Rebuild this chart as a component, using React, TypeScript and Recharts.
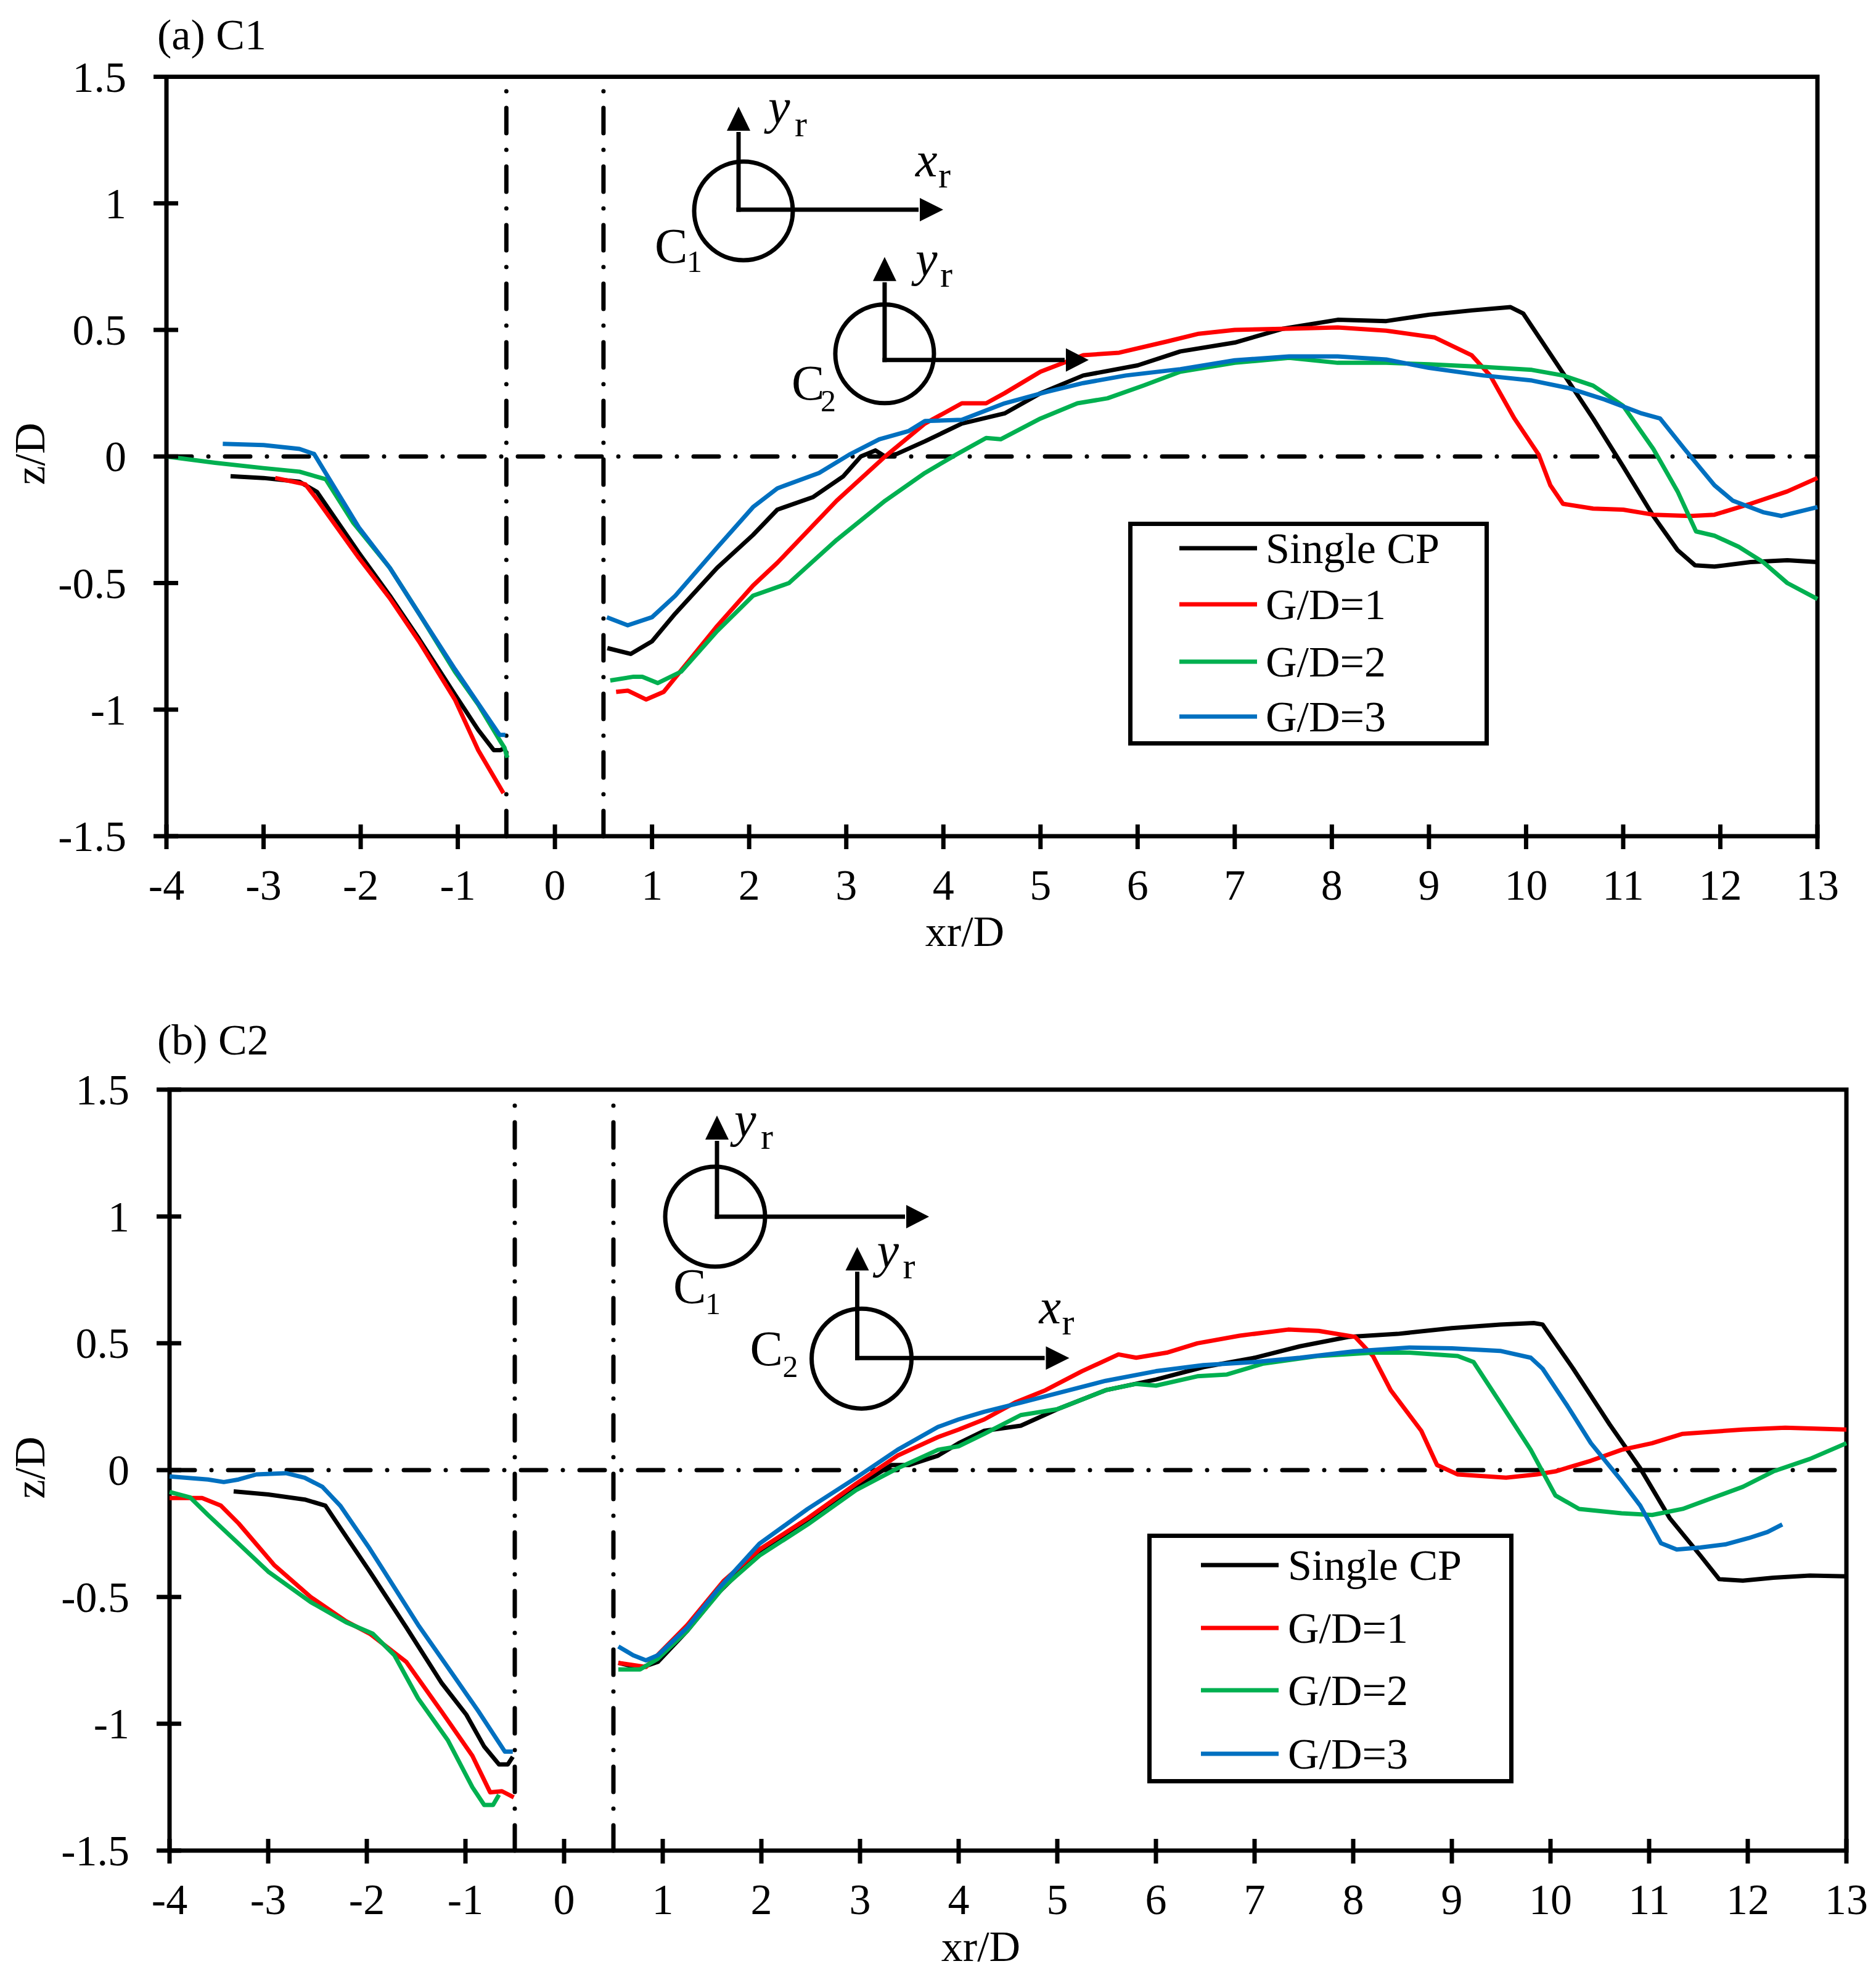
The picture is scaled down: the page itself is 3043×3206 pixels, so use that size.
import React from 'react';
import {
  LineChart,
  Line,
  XAxis,
  YAxis,
  ReferenceLine,
  ReferenceArea,
  ReferenceDot,
  Legend,
  Customized,
} from 'recharts';

const FONT = '"Liberation Serif", "Times New Roman", Times, serif';

// ---------- axes / categories ----------
const xTicks = [-4, -3, -2, -1, 0, 1, 2, 3, 4, 5, 6, 7, 8, 9, 10, 11, 12, 13];
const yTicks = [-1.5, -1, -0.5, 0, 0.5, 1, 1.5];
const seriesNames = ['Single CP', 'G/D=1', 'G/D=2', 'G/D=3'];
const seriesColors = ['#000000', '#FF0000', '#00B050', '#0070C0'];
const cylinderEdges = [-0.5, 0.5];

type P = [number, number | null];

// ---------- panel (a) C1 ----------
const aSingle: P[] = [
  [-3.34, -0.078], [-3.0, -0.085], [-2.63, -0.1], [-2.45, -0.14], [-2.02, -0.38], [-1.7, -0.55],
  [-1.4, -0.72], [-1.03, -0.94], [-0.79, -1.08], [-0.63, -1.16], [-0.56, -1.16], [-0.51, -1.15],
  [0, null],
  [0.54, -0.757], [0.78, -0.78], [1.0, -0.73], [1.24, -0.62], [1.67, -0.44], [2.04, -0.31],
  [2.29, -0.21], [2.66, -0.16], [2.97, -0.078], [3.15, 0.0], [3.3, 0.024], [3.4, 0.0], [3.52, 0.01],
  [3.81, 0.06], [4.19, 0.13], [4.63, 0.17], [5.0, 0.25], [5.44, 0.32], [6.0, 0.36], [6.44, 0.415],
  [7.0, 0.45], [7.5, 0.505], [8.06, 0.54], [8.56, 0.535], [9.0, 0.56], [9.44, 0.577], [9.84, 0.59],
  [9.97, 0.565], [10.31, 0.37], [10.69, 0.15], [11.0, -0.04], [11.31, -0.235], [11.56, -0.37],
  [11.74, -0.43], [11.94, -0.435], [12.31, -0.417], [12.69, -0.41], [13.0, -0.417],
];
const aGD1: P[] = [
  [-2.88, -0.085], [-2.57, -0.11], [-2.45, -0.17], [-2.02, -0.4], [-1.7, -0.56], [-1.4, -0.73],
  [-1.03, -0.96], [-0.79, -1.16], [-0.53, -1.33],
  [0, null],
  [0.63, -0.93], [0.75, -0.925], [0.94, -0.96], [1.12, -0.93], [1.67, -0.67], [2.04, -0.51],
  [2.29, -0.42], [2.9, -0.175], [3.4, 0.0], [3.81, 0.13], [4.19, 0.21], [4.44, 0.21], [4.63, 0.25],
  [5.0, 0.335], [5.44, 0.4], [5.81, 0.41], [6.31, 0.455], [6.63, 0.485], [7.0, 0.5], [7.56, 0.505],
  [8.06, 0.51], [8.56, 0.497], [9.06, 0.47], [9.44, 0.4], [9.63, 0.32], [9.88, 0.15], [10.13, 0.007],
  [10.25, -0.114], [10.38, -0.187], [10.69, -0.206], [11.0, -0.21], [11.31, -0.23], [11.69, -0.235],
  [11.94, -0.23], [12.31, -0.187], [12.69, -0.138], [13.0, -0.085],
];
const aGD2: P[] = [
  [-4.0, 0.0], [-3.5, -0.025], [-3.0, -0.046], [-2.63, -0.06], [-2.36, -0.09], [-2.08, -0.26],
  [-1.7, -0.44], [-1.4, -0.62], [-1.03, -0.85], [-0.79, -0.98], [-0.57, -1.12], [-0.52, -1.15],
  [-0.49, -1.19],
  [0, null],
  [0.57, -0.885], [0.81, -0.87], [0.9, -0.87], [1.06, -0.895], [1.3, -0.85], [1.67, -0.69],
  [2.04, -0.55], [2.41, -0.5], [2.9, -0.33], [3.4, -0.175], [3.81, -0.065], [4.13, 0.007],
  [4.44, 0.073], [4.59, 0.068], [5.0, 0.15], [5.38, 0.21], [5.69, 0.23], [6.06, 0.28], [6.44, 0.335],
  [7.0, 0.37], [7.56, 0.39], [8.06, 0.37], [8.56, 0.37], [9.0, 0.364], [9.56, 0.354], [10.06, 0.342],
  [10.38, 0.32], [10.69, 0.28], [11.0, 0.2], [11.31, 0.03], [11.56, -0.138], [11.75, -0.296],
  [11.94, -0.313], [12.19, -0.357], [12.44, -0.417], [12.69, -0.5], [13.0, -0.563],
];
const aGD3: P[] = [
  [-3.42, 0.05], [-3.0, 0.045], [-2.63, 0.03], [-2.48, 0.01], [-2.02, -0.28], [-1.7, -0.44],
  [-1.4, -0.62], [-1.03, -0.84], [-0.57, -1.1], [-0.51, -1.1],
  [0, null],
  [0.535, -0.635], [0.75, -0.667], [1.0, -0.635], [1.24, -0.55], [1.67, -0.36], [2.04, -0.2],
  [2.29, -0.126], [2.72, -0.065], [3.03, 0.007], [3.34, 0.068], [3.64, 0.1], [3.81, 0.14],
  [4.19, 0.145], [4.63, 0.21], [5.06, 0.255], [5.44, 0.29], [5.88, 0.32], [6.44, 0.345], [7.0, 0.38],
  [7.56, 0.395], [8.06, 0.395], [8.56, 0.383], [9.0, 0.35], [9.56, 0.32], [10.06, 0.3], [10.44, 0.27],
  [10.81, 0.225], [11.19, 0.17], [11.38, 0.15], [11.63, 0.03], [11.94, -0.114], [12.13, -0.175],
  [12.44, -0.22], [12.63, -0.235], [13.0, -0.2],
];

// ---------- panel (b) C2 ----------
const bSingle: P[] = [
  [-3.35, -0.084], [-3.0, -0.096], [-2.63, -0.116], [-2.42, -0.14], [-2.27, -0.227], [-1.97, -0.4],
  [-1.6, -0.62], [-1.24, -0.84], [-0.99, -0.965], [-0.81, -1.09], [-0.66, -1.16], [-0.57, -1.16],
  [-0.52, -1.13],
  [0, null],
  [0.55, -0.76], [0.77, -0.78], [0.95, -0.756], [1.25, -0.633], [1.56, -0.485], [1.98, -0.325],
  [2.47, -0.2], [2.96, -0.066], [3.32, 0.02], [3.5, 0.02], [3.79, 0.057], [4.0, 0.106], [4.26, 0.155],
  [4.63, 0.175], [5.0, 0.24], [5.49, 0.315], [6.0, 0.357], [6.48, 0.406], [7.0, 0.443], [7.46, 0.488],
  [7.95, 0.525], [8.45, 0.537], [9.0, 0.56], [9.49, 0.574], [9.83, 0.58], [9.92, 0.574], [10.23, 0.4],
  [10.6, 0.18], [10.91, 0.007], [11.21, -0.19], [11.52, -0.337], [11.71, -0.43], [11.95, -0.436],
  [12.26, -0.424], [12.63, -0.416], [13.0, -0.419],
];
const bGD1: P[] = [
  [-4.0, -0.11], [-3.67, -0.11], [-3.48, -0.14], [-3.3, -0.21], [-2.94, -0.374], [-2.57, -0.5],
  [-2.21, -0.596], [-1.97, -0.645], [-1.6, -0.756], [-1.24, -0.953], [-0.93, -1.126], [-0.75, -1.27],
  [-0.63, -1.266], [-0.51, -1.29],
  [0, null],
  [0.55, -0.76], [0.83, -0.776], [1.25, -0.61], [1.62, -0.436], [1.98, -0.313], [2.47, -0.19],
  [2.96, -0.054], [3.38, 0.057], [3.79, 0.13], [4.0, 0.16], [4.26, 0.2], [4.57, 0.266], [4.88, 0.315],
  [5.25, 0.39], [5.62, 0.456], [5.8, 0.443], [6.11, 0.463], [6.42, 0.5], [6.85, 0.53], [7.34, 0.554],
  [7.65, 0.549], [8.02, 0.525], [8.2, 0.45], [8.38, 0.315], [8.69, 0.155], [8.85, 0.02], [9.06, -0.017],
  [9.55, -0.03], [9.86, -0.017], [10.05, -0.005], [10.41, 0.037], [10.72, 0.08], [11.03, 0.106],
  [11.34, 0.143], [11.95, 0.16], [12.38, 0.167], [13.0, 0.16],
];
const bGD2: P[] = [
  [-4.0, -0.086], [-3.79, -0.108], [-3.61, -0.177], [-3.3, -0.29], [-3.0, -0.4], [-2.57, -0.52],
  [-2.21, -0.6], [-1.94, -0.645], [-1.72, -0.73], [-1.48, -0.9], [-1.18, -1.064], [-0.93, -1.25],
  [-0.81, -1.32], [-0.72, -1.32], [-0.66, -1.28],
  [0, null],
  [0.55, -0.786], [0.77, -0.786], [0.95, -0.744], [1.25, -0.633], [1.62, -0.46], [1.98, -0.337],
  [2.47, -0.214], [2.96, -0.079], [3.38, 0.007], [3.79, 0.08], [4.0, 0.094], [4.26, 0.143],
  [4.63, 0.217], [5.0, 0.24], [5.49, 0.315], [5.8, 0.34], [6.0, 0.333], [6.42, 0.37], [6.72, 0.377],
  [7.09, 0.42], [7.65, 0.45], [8.2, 0.463], [8.57, 0.463], [9.06, 0.45], [9.22, 0.426], [9.49, 0.266],
  [9.8, 0.08], [10.05, -0.1], [10.29, -0.153], [10.72, -0.17], [11.03, -0.177], [11.34, -0.153],
  [11.64, -0.11], [11.95, -0.066], [12.26, -0.005], [12.63, 0.044], [13.0, 0.106],
];
const bGD3: P[] = [
  [-4.0, -0.025], [-3.61, -0.037], [-3.45, -0.047], [-3.3, -0.037], [-3.12, -0.017], [-2.82, -0.012],
  [-2.63, -0.03], [-2.45, -0.066], [-2.27, -0.14], [-1.97, -0.31], [-1.48, -0.61], [-1.12, -0.81],
  [-0.87, -0.95], [-0.6, -1.11], [-0.52, -1.11],
  [0, null],
  [0.55, -0.695], [0.7, -0.73], [0.83, -0.75], [0.95, -0.73], [1.25, -0.62], [1.56, -0.47],
  [1.98, -0.29], [2.47, -0.153], [2.96, -0.03], [3.38, 0.08], [3.79, 0.17], [4.0, 0.2], [4.26, 0.23],
  [4.63, 0.266], [5.0, 0.303], [5.49, 0.352], [6.0, 0.39], [6.48, 0.414], [7.0, 0.426], [7.46, 0.443],
  [8.0, 0.468], [8.57, 0.483], [9.0, 0.48], [9.49, 0.47], [9.8, 0.443], [9.92, 0.4], [10.17, 0.254],
  [10.41, 0.106], [10.72, -0.042], [10.91, -0.14], [11.12, -0.288], [11.28, -0.313], [11.52, -0.305],
  [11.77, -0.293], [12.01, -0.268], [12.2, -0.244], [12.35, -0.214],
];

// schematic anchor points (xr/D, z/D) of the two cylinder sketches
const aSketchC1: [number, number] = [1.891, 0.975];
const aSketchC2: [number, number] = [3.395, 0.381];
const bSketchC1: [number, number] = [1.55, 0.999];
const bSketchC2: [number, number] = [2.972, 0.442];

const toRows = (pts: P[]) => pts.map(([x, z]) => ({ x, z }));

// ---------- drawing helpers ----------
const XTick = (props: any) => {
  const { x, y, payload } = props;
  return (
    <g>
      <line x1={x} x2={x} y1={y - 19} y2={y + 21} stroke="#000" strokeWidth={7} />
      <text x={x} y={y + 103} textAnchor="middle" fontFamily={FONT} fontSize={70} fill="#000">
        {String(payload.value)}
      </text>
    </g>
  );
};

const YTick = (props: any) => {
  const { x, y, payload } = props;
  return (
    <g>
      <line x1={x - 21} x2={x + 19} y1={y} y2={y} stroke="#000" strokeWidth={7} />
      <text x={x - 65} y={y + 24} textAnchor="end" fontFamily={FONT} fontSize={70} fill="#000">
        {String(payload.value)}
      </text>
    </g>
  );
};

type Lab = { t: string; it?: boolean; x: number; y: number; s: string; sx: number; sy: number; ss: number };
type SketchCfg = { circ: [number, number, number]; up: [number, number]; right: [number, number]; labels: Lab[] };

const Sketch = ({ cx, cy, cfg }: { cx: number; cy: number; cfg: SketchCfg }) => {
  const { circ, up, right, labels } = cfg;
  return (
    <g>
      <circle cx={cx + circ[0]} cy={cy + circ[1]} r={circ[2]} fill="none" stroke="#000" strokeWidth={7} />
      <line x1={cx} y1={cy + 3.5} x2={cx} y2={cy + up[1] + 2} stroke="#000" strokeWidth={7} />
      <polygon points={`${cx - 19},${cy + up[1]} ${cx + 19},${cy + up[1]} ${cx},${cy + up[0]}`} fill="#000" />
      <line x1={cx - 3.5} y1={cy} x2={cx + right[0] - 2} y2={cy} stroke="#000" strokeWidth={7} />
      <polygon points={`${cx + right[0]},${cy - 19} ${cx + right[0]},${cy + 19} ${cx + right[1]},${cy}`} fill="#000" />
      {labels.map((l, i) => (
        <g key={i}>
          <text x={cx + l.x} y={cy + l.y} fontFamily={FONT} fontSize={80} fontStyle={l.it ? 'italic' : 'normal'} fill="#000">
            {l.t}
          </text>
          <text x={cx + l.sx} y={cy + l.sy} fontFamily={FONT} fontSize={l.ss} fill="#000">
            {l.s}
          </text>
        </g>
      ))}
    </g>
  );
};

const aC1Cfg: SketchCfg = {
  circ: [8, 2, 80], up: [-167, -128], right: [294, 332],
  labels: [
    { t: 'y', it: true, x: 48, y: -140, s: 'r', sx: 91, sy: -119, ss: 60 },
    { t: 'x', it: true, x: 287, y: -54, s: 'r', sx: 324, sy: -36, ss: 60 },
    { t: 'C', x: -136, y: 86, s: '1', sx: -84, sy: 101, ss: 50 },
  ],
};
const aC2Cfg: SketchCfg = {
  circ: [0, -10, 80], up: [-167, -128], right: [294, 331],
  labels: [
    { t: 'y', it: true, x: 50, y: -137, s: 'r', sx: 90, sy: -119, ss: 60 },
    { t: 'C', x: -151, y: 64, s: '2', sx: -104, sy: 83, ss: 50 },
  ],
};
const bC1Cfg: SketchCfg = {
  circ: [-3, 0, 81], up: [-164, -125], right: [307, 344],
  labels: [
    { t: 'y', it: true, x: 28, y: -130, s: 'r', sx: 71, sy: -110, ss: 60 },
    { t: 'C', x: -71, y: 140, s: '1', sx: -19, sy: 158, ss: 50 },
  ],
};
const bC2Cfg: SketchCfg = {
  circ: [7, 1, 81], up: [-180, -142], right: [306, 344],
  labels: [
    { t: 'y', it: true, x: 32, y: -147, s: 'r', sx: 74, sy: -129, ss: 60 },
    { t: 'x', it: true, x: 295, y: -56, s: 'r', sx: 332, sy: -38, ss: 60 },
    { t: 'C', x: -174, y: 12, s: '2', sx: -121, sy: 31, ss: 50 },
  ],
};

type LegendCfg = { left: number; top: number; w: number; h: number; rows: number[]; lx: [number, number]; tx: number };

const makeLegend = (cfg: LegendCfg) => (props: any) => {
  const payload: any[] = props && props.payload && props.payload.length ? props.payload : [];
  const items = seriesNames.map((n, i) => {
    const p = payload.find((q) => q && q.value === n);
    return { name: n, color: (p && p.color) || seriesColors[i] };
  });
  return (
    <svg width={cfg.w} height={cfg.h} style={{ display: 'block' }}>
      <rect x={3.5} y={3.5} width={cfg.w - 7} height={cfg.h - 7} fill="#fff" stroke="#000" strokeWidth={7} />
      {items.map((it, i) => (
        <g key={it.name}>
          <line x1={cfg.lx[0]} x2={cfg.lx[1]} y1={cfg.rows[i]} y2={cfg.rows[i]} stroke={it.color} strokeWidth={7} />
          <text x={cfg.tx} y={cfg.rows[i] + 24} fontFamily={FONT} fontSize={70} fill="#000">
            {it.name}
          </text>
        </g>
      ))}
    </svg>
  );
};

type TextCfg = { title: string; tx: number; ty: number; xlx: number; xly: number; ylx: number; yly: number };

const PanelText = ({ cfg }: { cfg: TextCfg }) => (
  <g>
    <text x={cfg.tx} y={cfg.ty} fontFamily={FONT} fontSize={70} fill="#000">{cfg.title}</text>
    <text x={cfg.xlx} y={cfg.xly} textAnchor="middle" fontFamily={FONT} fontSize={70} fill="#000">xr/D</text>
    <text
      x={cfg.ylx}
      y={cfg.yly}
      textAnchor="middle"
      transform={`rotate(-90 ${cfg.ylx} ${cfg.yly})`}
      fontFamily={FONT}
      fontSize={70}
      fill="#000"
    >
      z/D
    </text>
  </g>
);

type PanelProps = {
  top: number;
  height: number;
  margin: { top: number; right: number; bottom: number; left: number };
  series: P[][];
  legend: LegendCfg;
  sketches: { at: [number, number]; cfg: SketchCfg }[];
  text: TextCfg;
};

const DASH = '41 27 0 27';

function Panel({ top, height, margin, series, legend, sketches, text }: PanelProps) {
  return (
    <div style={{ position: 'absolute', left: 0, top, width: 3043, height }}>
      <LineChart width={3043} height={height} margin={margin}>
        <XAxis
          type="number"
          dataKey="x"
          domain={[-4, 13]}
          ticks={xTicks}
          interval={0}
          height={150}
          tickLine={false}
          axisLine={false}
          tickSize={0}
          tickMargin={0}
          tick={<XTick />}
        />
        <YAxis
          type="number"
          domain={[-1.5, 1.5]}
          ticks={yTicks}
          interval={0}
          width={150}
          tickLine={false}
          axisLine={false}
          tickSize={0}
          tickMargin={0}
          tick={<YTick />}
        />
        <ReferenceArea
          x1={-4}
          x2={13}
          y1={-1.5}
          y2={1.5}
          fill="none"
          fillOpacity={0}
          stroke="#000"
          strokeWidth={7}
          ifOverflow="visible"
        />
        <ReferenceLine y={0} stroke="#000" strokeWidth={7} strokeDasharray={DASH} strokeLinecap="round" />
        {cylinderEdges.map((v) => (
          <ReferenceLine key={v} x={v} stroke="#000" strokeWidth={7} strokeDasharray={DASH} strokeLinecap="round" />
        ))}
        {series.map((s, i) => (
          <Line
            key={seriesNames[i]}
            data={toRows(s)}
            dataKey="z"
            name={seriesNames[i]}
            type="linear"
            stroke={seriesColors[i]}
            strokeWidth={7}
            strokeLinejoin="round"
            dot={false}
            activeDot={false}
            isAnimationActive={false}
          />
        ))}
        {sketches.map((sk, i) => (
          <ReferenceDot
            key={i}
            x={sk.at[0]}
            y={sk.at[1]}
            r={1}
            ifOverflow="visible"
            shape={(p: any) => <Sketch cx={p.cx} cy={p.cy} cfg={sk.cfg} />}
          />
        ))}
        <Legend
          layout="vertical"
          align="center"
          verticalAlign="middle"
          wrapperStyle={{ left: legend.left, top: legend.top, width: legend.w, height: legend.h }}
          content={makeLegend(legend)}
        />
        <Customized component={<PanelText cfg={text} />} />
      </LineChart>
    </div>
  );
}

export default function App() {
  return (
    <div
      style={{
        position: 'absolute',
        left: 0,
        top: 0,
        width: 3043,
        height: 3206,
        background: '#ffffff',
        overflow: 'hidden',
      }}
    >
      <Panel
        top={0}
        height={1600}
        margin={{ top: 124.5, right: 95, bottom: 94, left: 120 }}
        series={[aSingle, aGD1, aGD2, aGD3]}
        legend={{ left: 1830, top: 846, w: 585, h: 363, rows: [43, 134, 227, 316], lx: [83, 209], tx: 223 }}
        sketches={[
          { at: aSketchC1, cfg: aC1Cfg },
          { at: aSketchC2, cfg: aC2Cfg },
        ]}
        text={{ title: '(a) C1', tx: 255, ty: 80, xlx: 1565, xly: 1534, ylx: 72, yly: 736 }}
      />
      <Panel
        top={1600}
        height={1606}
        margin={{ top: 167, right: 48, bottom: 55, left: 125 }}
        series={[bSingle, bGD1, bGD2, bGD3]}
        legend={{ left: 1861, top: 887, w: 594, h: 405, rows: [51, 153, 254, 357], lx: [87, 213], tx: 228 }}
        sketches={[
          { at: bSketchC1, cfg: bC1Cfg },
          { at: bSketchC2, cfg: bC2Cfg },
        ]}
        text={{ title: '(b) C2', tx: 255, ty: 110, xlx: 1591, xly: 1580, ylx: 72, yly: 780 }}
      />
    </div>
  );
}
